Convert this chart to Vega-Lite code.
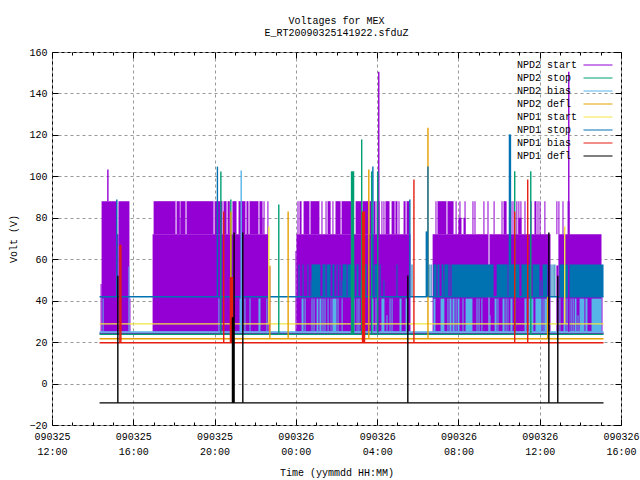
{"$schema":"https://vega.github.io/schema/vega-lite/v6.json","width":569,"height":373,"autosize":{"type":"none"},"padding":{"left":52,"top":52,"right":19,"bottom":55},"background":"white","config":{"view":{"stroke":"black","strokeWidth":1},"font":"Liberation Mono","text":{"font":"Liberation Mono"}},
"title":{"text":["Voltages for MEX","E_RT20090325141922.sfduZ"],"font":"Liberation Mono","fontSize":10,"fontWeight":"normal","color":"black","anchor":"middle","offset":9,"lineHeight":12},
"datasets":{
"blocks":[
{"s":"NPD2 start","a":14.39,"b":14.44,"lo":25,"hi":48},{"s":"NPD2 start","a":14.44,"b":15.2,"lo":25,"hi":88},{"s":"NPD2 start","a":15.2,"b":15.27,"lo":25,"hi":72},{"s":"NPD2 start","a":15.27,"b":15.81,"lo":25,"hi":88},{"s":"NPD2 start","a":15.81,"b":15.86,"lo":25,"hi":41},
{"s":"NPD2 start","a":16.95,"b":20.76,"lo":25,"hi":72},{"s":"NPD2 start","a":20.76,"b":20.82,"lo":25,"hi":56.5},{"s":"NPD2 start","a":20.82,"b":22.65,"lo":25,"hi":72},{"s":"NPD2 start","a":22.65,"b":22.74,"lo":25,"hi":56.5},
{"s":"NPD2 start","a":17.0,"b":18.08,"lo":72,"hi":88},{"s":"NPD2 start","a":18.13,"b":18.29,"lo":72,"hi":88},{"s":"NPD2 start","a":18.29,"b":18.32,"lo":72,"hi":80},{"s":"NPD2 start","a":18.32,"b":18.57,"lo":72,"hi":88},{"s":"NPD2 start","a":18.62,"b":19.95,"lo":72,"hi":88},{"s":"NPD2 start","a":20.0,"b":20.39,"lo":72,"hi":88},{"s":"NPD2 start","a":20.44,"b":20.59,"lo":72,"hi":88},{"s":"NPD2 start","a":20.64,"b":20.75,"lo":72,"hi":88},{"s":"NPD2 start","a":20.88,"b":21.08,"lo":72,"hi":88},{"s":"NPD2 start","a":21.18,"b":21.52,"lo":72,"hi":88},{"s":"NPD2 start","a":21.57,"b":21.67,"lo":72,"hi":88},{"s":"NPD2 start","a":21.72,"b":22.16,"lo":72,"hi":88},{"s":"NPD2 start","a":22.21,"b":22.36,"lo":72,"hi":88},{"s":"NPD2 start","a":22.36,"b":22.41,"lo":72,"hi":80},{"s":"NPD2 start","a":22.41,"b":22.46,"lo":72,"hi":88},{"s":"NPD2 start","a":22.6,"b":22.65,"lo":72,"hi":88},
{"s":"NPD2 start","a":23.98,"b":24.03,"lo":25,"hi":64},{"s":"NPD2 start","a":24.03,"b":29.64,"lo":25,"hi":72},{"s":"NPD2 start","a":30.73,"b":33.48,"lo":25,"hi":72},{"s":"NPD2 start","a":33.48,"b":33.53,"lo":25,"hi":57.5},{"s":"NPD2 start","a":33.53,"b":36.53,"lo":25,"hi":72},{"s":"NPD2 start","a":36.82,"b":36.92,"lo":25,"hi":57},{"s":"NPD2 start","a":36.92,"b":39.04,"lo":25,"hi":72},{"s":"NPD2 start","a":39.04,"b":39.09,"lo":25,"hi":57},
{"s":"NPD2 start","a":24.08,"b":24.13,"lo":72,"hi":88},{"s":"NPD2 start","a":24.18,"b":24.28,"lo":72,"hi":88},{"s":"NPD2 start","a":24.38,"b":24.67,"lo":72,"hi":88},{"s":"NPD2 start","a":24.72,"b":25.16,"lo":72,"hi":88},{"s":"NPD2 start","a":25.26,"b":25.31,"lo":72,"hi":88},{"s":"NPD2 start","a":25.46,"b":25.51,"lo":72,"hi":88},{"s":"NPD2 start","a":25.56,"b":25.71,"lo":72,"hi":88},{"s":"NPD2 start","a":25.8,"b":25.85,"lo":72,"hi":88},{"s":"NPD2 start","a":25.95,"b":26.2,"lo":72,"hi":88},{"s":"NPD2 start","a":26.25,"b":26.74,"lo":72,"hi":88},{"s":"NPD2 start","a":26.94,"b":27.23,"lo":72,"hi":88},{"s":"NPD2 start","a":27.28,"b":27.57,"lo":72,"hi":88},{"s":"NPD2 start","a":27.62,"b":27.72,"lo":72,"hi":88},{"s":"NPD2 start","a":27.82,"b":27.92,"lo":72,"hi":88},{"s":"NPD2 start","a":27.97,"b":28.12,"lo":72,"hi":88},{"s":"NPD2 start","a":28.21,"b":28.26,"lo":72,"hi":88},{"s":"NPD2 start","a":28.31,"b":28.36,"lo":72,"hi":88},{"s":"NPD2 start","a":28.41,"b":28.61,"lo":72,"hi":88},{"s":"NPD2 start","a":28.71,"b":28.86,"lo":72,"hi":88},{"s":"NPD2 start","a":28.9,"b":29.0,"lo":72,"hi":88},{"s":"NPD2 start","a":29.05,"b":29.1,"lo":72,"hi":88},{"s":"NPD2 start","a":29.3,"b":29.4,"lo":72,"hi":88},{"s":"NPD2 start","a":29.45,"b":29.59,"lo":72,"hi":88},
{"s":"NPD2 start","a":30.87,"b":30.92,"lo":72,"hi":88},{"s":"NPD2 start","a":30.97,"b":31.41,"lo":72,"hi":88},{"s":"NPD2 start","a":31.46,"b":31.76,"lo":72,"hi":88},{"s":"NPD2 start","a":31.86,"b":31.91,"lo":72,"hi":88},{"s":"NPD2 start","a":32.0,"b":32.15,"lo":72,"hi":80},{"s":"NPD2 start","a":32.05,"b":32.1,"lo":72,"hi":88},{"s":"NPD2 start","a":32.25,"b":32.35,"lo":72,"hi":80},{"s":"NPD2 start","a":32.3,"b":32.35,"lo":72,"hi":88},{"s":"NPD2 start","a":32.69,"b":32.74,"lo":72,"hi":88},{"s":"NPD2 start","a":32.79,"b":32.84,"lo":72,"hi":88},{"s":"NPD2 start","a":33.23,"b":33.28,"lo":72,"hi":88},{"s":"NPD2 start","a":33.43,"b":33.48,"lo":72,"hi":88},{"s":"NPD2 start","a":33.73,"b":33.78,"lo":72,"hi":88},{"s":"NPD2 start","a":34.12,"b":34.17,"lo":72,"hi":88},{"s":"NPD2 start","a":34.22,"b":34.37,"lo":72,"hi":88},{"s":"NPD2 start","a":34.56,"b":34.61,"lo":72,"hi":88},{"s":"NPD2 start","a":34.66,"b":34.71,"lo":72,"hi":88},{"s":"NPD2 start","a":34.85,"b":34.9,"lo":72,"hi":88},{"s":"NPD2 start","a":34.95,"b":35.1,"lo":72,"hi":80},{"s":"NPD2 start","a":34.95,"b":35.0,"lo":72,"hi":88},{"s":"NPD2 start","a":35.05,"b":35.1,"lo":72,"hi":88},{"s":"NPD2 start","a":35.25,"b":35.3,"lo":72,"hi":88},{"s":"NPD2 start","a":35.55,"b":35.6,"lo":72,"hi":88},{"s":"NPD2 start","a":35.74,"b":35.84,"lo":72,"hi":88},{"s":"NPD2 start","a":35.89,"b":35.94,"lo":72,"hi":88},{"s":"NPD2 start","a":35.99,"b":36.04,"lo":72,"hi":88},{"s":"NPD2 start","a":36.23,"b":36.28,"lo":72,"hi":88},{"s":"NPD2 start","a":36.82,"b":36.87,"lo":72,"hi":88},{"s":"NPD2 start","a":36.92,"b":36.97,"lo":72,"hi":88},{"s":"NPD2 start","a":37.12,"b":37.17,"lo":72,"hi":88},{"s":"NPD2 start","a":37.37,"b":37.47,"lo":72,"hi":88},
{"s":"NPD2 bias","a":14.49,"b":14.54,"lo":25,"hi":41},{"s":"NPD2 bias","a":15.76,"b":15.81,"lo":25,"hi":56.5},{"s":"NPD2 bias","a":20.19,"b":20.24,"lo":25,"hi":41},{"s":"NPD2 bias","a":21.23,"b":21.33,"lo":25,"hi":41},{"s":"NPD2 bias","a":21.47,"b":21.52,"lo":25,"hi":41},{"s":"NPD2 bias","a":21.72,"b":21.77,"lo":25,"hi":41},{"s":"NPD2 bias","a":22.16,"b":22.26,"lo":25,"hi":41},{"s":"NPD2 bias","a":22.55,"b":22.6,"lo":25,"hi":41},
{"s":"NPD2 bias","a":24.28,"b":24.38,"lo":25,"hi":41},{"s":"NPD2 bias","a":24.43,"b":24.48,"lo":25,"hi":41},{"s":"NPD2 bias","a":24.77,"b":24.82,"lo":25,"hi":41},{"s":"NPD2 bias","a":24.87,"b":24.92,"lo":25,"hi":41},{"s":"NPD2 bias","a":25.02,"b":25.11,"lo":25,"hi":41},{"s":"NPD2 bias","a":25.16,"b":25.26,"lo":25,"hi":41},{"s":"NPD2 bias","a":25.31,"b":25.36,"lo":25,"hi":41},{"s":"NPD2 bias","a":25.41,"b":25.46,"lo":25,"hi":41},{"s":"NPD2 bias","a":25.56,"b":25.61,"lo":25,"hi":41},{"s":"NPD2 bias","a":25.71,"b":25.75,"lo":25,"hi":41},{"s":"NPD2 bias","a":25.8,"b":26.0,"lo":25,"hi":41},{"s":"NPD2 bias","a":26.05,"b":26.1,"lo":25,"hi":41},{"s":"NPD2 bias","a":26.25,"b":26.3,"lo":25,"hi":41},{"s":"NPD2 bias","a":26.79,"b":26.89,"lo":25,"hi":41},{"s":"NPD2 bias","a":26.99,"b":27.03,"lo":25,"hi":41},{"s":"NPD2 bias","a":27.08,"b":27.13,"lo":25,"hi":41},{"s":"NPD2 bias","a":27.72,"b":27.82,"lo":25,"hi":41},{"s":"NPD2 bias","a":27.92,"b":27.97,"lo":25,"hi":41},{"s":"NPD2 bias","a":28.21,"b":28.36,"lo":25,"hi":41},{"s":"NPD2 bias","a":28.46,"b":28.51,"lo":25,"hi":33},{"s":"NPD2 bias","a":28.61,"b":28.66,"lo":25,"hi":41},{"s":"NPD2 bias","a":28.71,"b":28.76,"lo":25,"hi":41},{"s":"NPD2 bias","a":29.1,"b":29.2,"lo":25,"hi":41},{"s":"NPD2 bias","a":29.4,"b":29.5,"lo":25,"hi":41},
{"s":"NPD2 bias","a":30.77,"b":30.87,"lo":25,"hi":41},{"s":"NPD2 bias","a":31.12,"b":31.31,"lo":25,"hi":41},{"s":"NPD2 bias","a":31.46,"b":31.51,"lo":25,"hi":41},{"s":"NPD2 bias","a":31.56,"b":31.66,"lo":25,"hi":41},{"s":"NPD2 bias","a":31.71,"b":31.81,"lo":25,"hi":41},{"s":"NPD2 bias","a":31.86,"b":31.91,"lo":25,"hi":41},{"s":"NPD2 bias","a":31.96,"b":32.05,"lo":25,"hi":41},{"s":"NPD2 bias","a":32.2,"b":32.25,"lo":25,"hi":41},{"s":"NPD2 bias","a":32.35,"b":32.69,"lo":25,"hi":41},{"s":"NPD2 bias","a":32.89,"b":32.94,"lo":25,"hi":41},{"s":"NPD2 bias","a":32.99,"b":33.04,"lo":25,"hi":41},{"s":"NPD2 bias","a":33.13,"b":33.18,"lo":25,"hi":41},{"s":"NPD2 bias","a":33.48,"b":33.53,"lo":25,"hi":41},{"s":"NPD2 bias","a":33.53,"b":33.58,"lo":25,"hi":33},{"s":"NPD2 bias","a":33.78,"b":33.88,"lo":25,"hi":41},{"s":"NPD2 bias","a":33.92,"b":33.97,"lo":25,"hi":41},{"s":"NPD2 bias","a":34.17,"b":34.27,"lo":25,"hi":41},{"s":"NPD2 bias","a":34.32,"b":34.37,"lo":25,"hi":41},{"s":"NPD2 bias","a":34.42,"b":34.46,"lo":25,"hi":41},{"s":"NPD2 bias","a":34.56,"b":34.66,"lo":25,"hi":41},{"s":"NPD2 bias","a":34.76,"b":34.8,"lo":25,"hi":41},
{"s":"NPD2 bias","a":35.25,"b":35.35,"lo":25,"hi":41},{"s":"NPD2 bias","a":35.45,"b":35.69,"lo":25,"hi":41},{"s":"NPD2 bias","a":35.79,"b":36.09,"lo":25,"hi":41},{"s":"NPD2 bias","a":36.14,"b":36.19,"lo":25,"hi":41},{"s":"NPD2 bias","a":36.23,"b":36.38,"lo":25,"hi":41},{"s":"NPD2 bias","a":36.97,"b":37.02,"lo":25,"hi":41},{"s":"NPD2 bias","a":37.17,"b":37.27,"lo":25,"hi":41},{"s":"NPD2 bias","a":37.32,"b":37.37,"lo":25,"hi":41},{"s":"NPD2 bias","a":37.42,"b":37.47,"lo":25,"hi":41},{"s":"NPD2 bias","a":37.52,"b":37.57,"lo":25,"hi":41},{"s":"NPD2 bias","a":37.62,"b":37.67,"lo":25,"hi":41},{"s":"NPD2 bias","a":37.72,"b":37.81,"lo":25,"hi":41},{"s":"NPD2 bias","a":37.86,"b":37.91,"lo":25,"hi":33},{"s":"NPD2 bias","a":37.96,"b":38.2,"lo":25,"hi":41},{"s":"NPD2 bias","a":38.25,"b":38.35,"lo":25,"hi":41},{"s":"NPD2 bias","a":38.55,"b":39.04,"lo":25,"hi":41},
{"s":"NPD1 stop","a":24.13,"b":24.18,"lo":42,"hi":57.5},{"s":"NPD1 stop","a":24.33,"b":24.38,"lo":42,"hi":57.5},{"s":"NPD1 stop","a":24.57,"b":24.62,"lo":42,"hi":57.5},{"s":"NPD1 stop","a":24.72,"b":24.77,"lo":42,"hi":49.7},{"s":"NPD1 stop","a":24.77,"b":25.21,"lo":42,"hi":57.5},{"s":"NPD1 stop","a":25.31,"b":25.46,"lo":42,"hi":57.5},{"s":"NPD1 stop","a":25.51,"b":25.71,"lo":42,"hi":57.5},{"s":"NPD1 stop","a":25.8,"b":25.9,"lo":42,"hi":57.5},{"s":"NPD1 stop","a":26.0,"b":26.05,"lo":42,"hi":57.5},{"s":"NPD1 stop","a":26.15,"b":26.2,"lo":42,"hi":57.5},{"s":"NPD1 stop","a":26.25,"b":26.3,"lo":42,"hi":49.7},{"s":"NPD1 stop","a":26.3,"b":26.5,"lo":42,"hi":57.5},{"s":"NPD1 stop","a":26.54,"b":26.89,"lo":42,"hi":57.5},{"s":"NPD1 stop","a":26.99,"b":27.08,"lo":42,"hi":57.5},{"s":"NPD1 stop","a":27.18,"b":27.23,"lo":42,"hi":49.7},{"s":"NPD1 stop","a":27.28,"b":27.48,"lo":42,"hi":57.5},{"s":"NPD1 stop","a":27.57,"b":27.62,"lo":42,"hi":57.5},{"s":"NPD1 stop","a":27.72,"b":27.77,"lo":42,"hi":57.5},{"s":"NPD1 stop","a":27.87,"b":28.02,"lo":42,"hi":57.5},{"s":"NPD1 stop","a":28.12,"b":28.17,"lo":42,"hi":57.5},{"s":"NPD1 stop","a":28.31,"b":28.36,"lo":42,"hi":49.7},{"s":"NPD1 stop","a":28.95,"b":29.0,"lo":42,"hi":57.5},{"s":"NPD1 stop","a":29.69,"b":29.74,"lo":42,"hi":57.5},{"s":"NPD1 stop","a":30.53,"b":30.58,"lo":42,"hi":57.5},{"s":"NPD1 stop","a":30.63,"b":30.68,"lo":42,"hi":57.5},
{"s":"NPD1 stop","a":30.77,"b":30.92,"lo":42,"hi":57.5},{"s":"NPD1 stop","a":30.97,"b":31.07,"lo":42,"hi":57.5},{"s":"NPD1 stop","a":31.17,"b":31.26,"lo":42,"hi":57.5},{"s":"NPD1 stop","a":31.26,"b":31.31,"lo":42,"hi":49.7},{"s":"NPD1 stop","a":31.31,"b":31.51,"lo":42,"hi":57.5},{"s":"NPD1 stop","a":31.56,"b":31.61,"lo":42,"hi":57.5},{"s":"NPD1 stop","a":31.66,"b":33.73,"lo":42,"hi":57.5},{"s":"NPD1 stop","a":33.88,"b":34.42,"lo":42,"hi":57.5},{"s":"NPD1 stop","a":34.46,"b":35.0,"lo":42,"hi":57.5},{"s":"NPD1 stop","a":35.1,"b":35.55,"lo":42,"hi":57.5},{"s":"NPD1 stop","a":35.65,"b":35.99,"lo":42,"hi":57.5},{"s":"NPD1 stop","a":36.04,"b":36.09,"lo":42,"hi":49.7},{"s":"NPD1 stop","a":36.14,"b":36.38,"lo":42,"hi":57.5},{"s":"NPD1 stop","a":36.53,"b":36.58,"lo":42,"hi":57.5},{"s":"NPD1 stop","a":36.63,"b":36.68,"lo":42,"hi":57.5},{"s":"NPD1 stop","a":36.72,"b":36.77,"lo":42,"hi":57.5},{"s":"NPD1 stop","a":36.97,"b":39.14,"lo":42,"hi":57.5}
],
"baselines":[
{"s":"NPD2 start","a":14.34,"b":39.14,"v":24.3},{"s":"NPD2 stop","a":14.34,"b":39.14,"v":23.8},{"s":"NPD2 bias","a":14.34,"b":39.14,"v":24.9},{"s":"NPD2 defl","a":14.34,"b":39.14,"v":21.6},{"s":"NPD1 start","a":14.34,"b":39.14,"v":28.8},{"s":"NPD1 stop","a":14.34,"b":39.14,"v":41.9},{"s":"NPD1 bias","a":14.34,"b":39.14,"v":19.7},{"s":"NPD1 defl","a":14.34,"b":39.14,"v":-9.3}
],
"spikes":[
{"s":"NPD2 start","a":14.75,"lo":88,"hi":103.3},{"s":"NPD2 start","a":28.08,"lo":25,"hi":150.5},{"s":"NPD2 start","a":37.43,"lo":25,"hi":150.5},
{"s":"NPD2 stop","a":20.31,"lo":24,"hi":102.3},{"s":"NPD2 stop","a":20.8,"lo":24,"hi":88.8},{"s":"NPD2 stop","a":23.16,"lo":24,"hi":86.4},{"s":"NPD2 stop","a":26.74,"lo":24,"hi":102.4},{"s":"NPD2 stop","a":26.79,"lo":24,"hi":102.4},{"s":"NPD2 stop","a":26.84,"lo":24,"hi":102.4},{"s":"NPD2 stop","a":27.24,"lo":24,"hi":117.8},{"s":"NPD2 stop","a":27.73,"lo":24,"hi":102.4},{"s":"NPD2 stop","a":28.03,"lo":24,"hi":102.4},{"s":"NPD2 stop","a":34.77,"lo":24,"hi":102.4},{"s":"NPD2 stop","a":35.56,"lo":24,"hi":102.4},
{"s":"NPD2 bias","a":21.31,"lo":25,"hi":102.8},
{"s":"NPD2 defl","a":20.8,"lo":21.6,"hi":83},{"s":"NPD2 defl","a":22.72,"lo":21.6,"hi":57},{"s":"NPD2 defl","a":23.62,"lo":21.6,"hi":83},{"s":"NPD2 defl","a":27.59,"lo":21.6,"hi":103.3},{"s":"NPD2 defl","a":30.5,"lo":21.6,"hi":123.5},{"s":"NPD2 defl","a":36.39,"lo":21.6,"hi":41.9},
{"s":"NPD1 start","a":22.67,"lo":28.8,"hi":75.8},{"s":"NPD1 start","a":37.23,"lo":28.8,"hi":75.8},
{"s":"NPD1 stop","a":15.19,"lo":41.9,"hi":88.8},{"s":"NPD1 stop","a":20.14,"lo":41.9,"hi":104.7},{"s":"NPD1 stop","a":27.79,"lo":41.9,"hi":104.8},{"s":"NPD1 stop","a":29.61,"lo":41.9,"hi":88.8},{"s":"NPD1 stop","a":30.42,"lo":41.9,"hi":73.4},{"s":"NPD1 stop","a":30.46,"lo":41.9,"hi":73.4},{"s":"NPD1 stop","a":30.5,"lo":41.9,"hi":104.8},{"s":"NPD1 stop","a":34.51,"lo":41.9,"hi":120.2},{"s":"NPD1 stop","a":34.56,"lo":41.9,"hi":120.2},
{"s":"NPD1 bias","a":15.34,"lo":19.7,"hi":67},{"s":"NPD1 bias","a":15.39,"lo":19.7,"hi":67},{"s":"NPD1 bias","a":20.45,"lo":19.7,"hi":83},{"s":"NPD1 bias","a":20.78,"lo":19.7,"hi":51.4},{"s":"NPD1 bias","a":20.83,"lo":19.7,"hi":51.4},{"s":"NPD1 bias","a":20.88,"lo":19.7,"hi":51.4},{"s":"NPD1 bias","a":27.28,"lo":19.7,"hi":83},{"s":"NPD1 bias","a":27.33,"lo":19.7,"hi":83},{"s":"NPD1 bias","a":27.38,"lo":19.7,"hi":83},{"s":"NPD1 bias","a":29.81,"lo":19.7,"hi":98.5},{"s":"NPD1 bias","a":34.77,"lo":19.7,"hi":83},{"s":"NPD1 bias","a":35.41,"lo":19.7,"hi":98.5},
{"s":"NPD1 defl","a":15.24,"lo":-9.3,"hi":52},{"s":"NPD1 defl","a":20.88,"lo":-9.3,"hi":32},{"s":"NPD1 defl","a":20.93,"lo":-9.3,"hi":32},{"s":"NPD1 defl","a":20.96,"lo":-9.3,"hi":72.9},{"s":"NPD1 defl","a":21.39,"lo":-9.3,"hi":72.9},{"s":"NPD1 defl","a":29.51,"lo":-9.3,"hi":52.1},{"s":"NPD1 defl","a":36.45,"lo":-9.3,"hi":72.9},{"s":"NPD1 defl","a":36.89,"lo":-9.3,"hi":52}
]},
"layer":[
{"data":{"name":"blocks"},"mark":{"type":"rect","strokeWidth":0},"encoding":{
"x":{"field":"a","type":"quantitative","scale":{"domain":[12,40],"nice":false},"axis":{"orient":"bottom","title":"Time (yymmdd HH:MM)","titleFont":"Liberation Mono","titleFontSize":10,"titleFontWeight":"normal","titleColor":"black","titlePadding":11,"domain":false,"values":[12,13,14,15,16,17,18,19,20,21,22,23,24,25,26,27,28,29,30,31,32,33,34,35,36,37,38,39,40],"grid":true,"gridColor":{"condition":{"test":"datum.value%4==0","value":"#999999"},"value":"transparent"},"gridDash":[3,3],"gridWidth":1,"tickColor":"black","tickSize":{"condition":{"test":"datum.value%4==0","value":-6},"value":-3},"labelColor":"black","labelFont":"Liberation Mono","labelFontSize":10,"labelPadding":12,"labelLineHeight":15,"labelOverlap":false,"labelFlush":false,"labelExpr":"datum.value%4==0?[datum.value<24?'090325':(datum.value<48?'090326':''),((datum.value%24)<10?'0':'')+(datum.value%24)+':00']:''"}},
"x2":{"field":"b"},
"y":{"field":"lo","type":"quantitative","scale":{"domain":[-20,160],"nice":false},"axis":{"orient":"left","title":"Volt (V)","titleFont":"Liberation Mono","titleFontSize":10,"titleFontWeight":"normal","titleColor":"black","titlePadding":10,"domain":false,"values":[-20,0,20,40,60,80,100,120,140,160],"grid":true,"gridColor":"#999999","gridDash":[3,3],"gridWidth":1,"tickColor":"black","tickSize":-6,"labelColor":"black","labelFont":"Liberation Mono","labelFontSize":10,"labelPadding":11}},
"y2":{"field":"hi"},
"color":{"field":"s","type":"nominal","legend":null,"scale":{"domain":["NPD2 start","NPD2 stop","NPD2 bias","NPD2 defl","NPD1 start","NPD1 stop","NPD1 bias","NPD1 defl"],"range":["#9400d3","#009e73","#56b4e9","#e69f00","#f0e442","#0072b2","#e51e10","#000000"]}}}},
{"data":{"name":"baselines"},"mark":{"type":"rule","strokeWidth":1.4},"encoding":{
"x":{"field":"a","type":"quantitative","axis":{"orient":"top","title":null,"domain":false,"labels":false,"grid":false,"values":[12,13,14,15,16,17,18,19,20,21,22,23,24,25,26,27,28,29,30,31,32,33,34,35,36,37,38,39,40],"tickColor":"black","tickSize":{"condition":{"test":"datum.value%4==0","value":-6},"value":-3}}},
"x2":{"field":"b"},
"y":{"field":"v","type":"quantitative","axis":{"orient":"right","title":null,"domain":false,"labels":false,"grid":false,"values":[-20,0,20,40,60,80,100,120,140,160],"tickColor":"black","tickSize":-6}},
"color":{"field":"s","type":"nominal","legend":null}}},
{"data":{"name":"spikes"},"mark":{"type":"rule","strokeWidth":1.4},"encoding":{
"x":{"field":"a","type":"quantitative","axis":null},
"y":{"field":"lo","type":"quantitative","axis":null},
"y2":{"field":"hi"},
"color":{"field":"s","type":"nominal","legend":{"title":null,"orient":"none","legendX":463,"legendY":8,"symbolType":"M-3.625,0H3.625","symbolSize":64,"symbolStrokeWidth":1,"symbolOffset":78,"labelOffset":-86,"labelFont":"Liberation Mono","labelFontSize":10,"labelColor":"black","rowPadding":3,"labelLimit":100}}}}
],
"resolve":{"axis":{"x":"independent","y":"independent"},"legend":{"color":"independent"}}}
